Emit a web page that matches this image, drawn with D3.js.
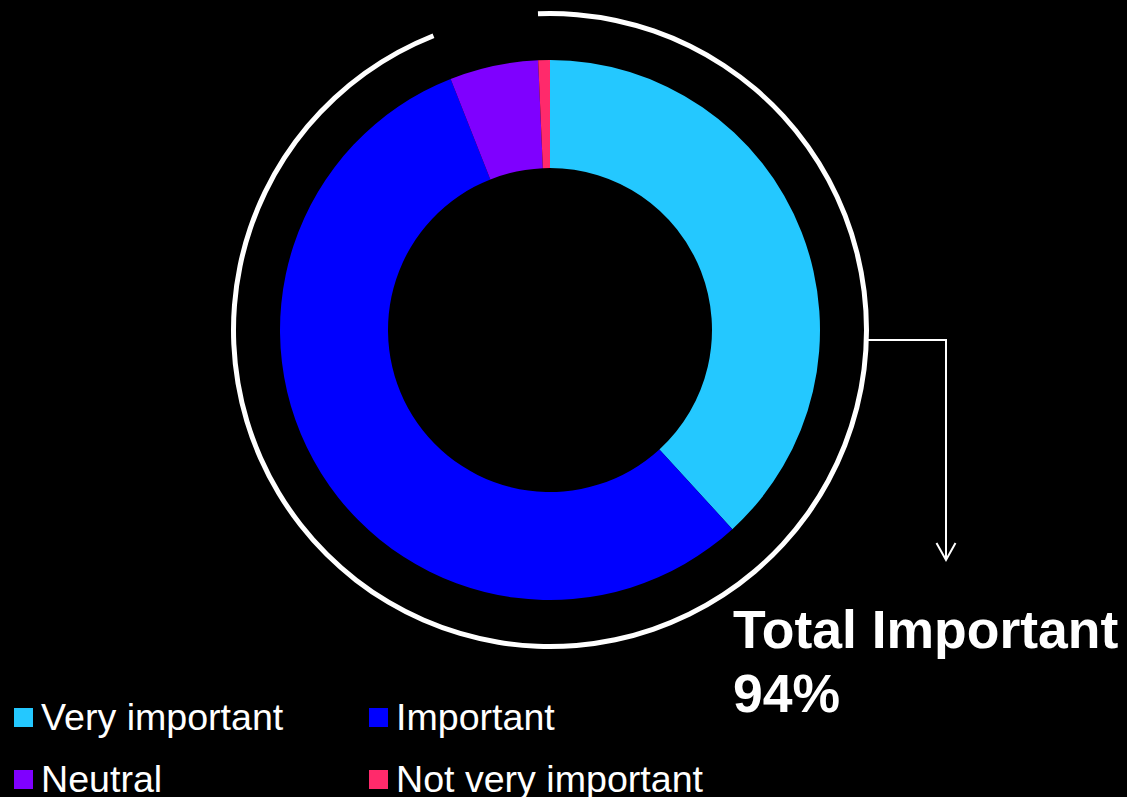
<!DOCTYPE html>
<html>
<head>
<meta charset="utf-8">
<script src="https://cdn.jsdelivr.net/npm/d3@7"></script>
<style>
  html, body { margin: 0; padding: 0; background: #000; }
  svg { display: block; }
  text { font-family: "Liberation Sans", Arial, sans-serif; fill: #fff; }
</style>
</head>
<body>
<svg id="chart" width="1127" height="797"></svg>
<script>
// Survey responses (share of respondents, %)
const categories = ["Very important", "Important", "Neutral", "Not very important"];
const values = [38.2, 55.8, 5.3, 0.7];
const colors = ["#24C8FF", "#0000FF", "#7F00FF", "#FF2A6B"];
const totalLabel = "Total Important";
const totalValue = 94;

const svg = d3.select("#chart");
const cx = 550, cy = 330;
const outerR = 270, innerR = 162;

const g = svg.append("g").attr("transform", `translate(${cx},${cy})`);

const pie = d3.pie().sort(null).value(d => d.value);
const arc = d3.arc().innerRadius(innerR).outerRadius(outerR);

g.selectAll("path.slice")
  .data(pie(categories.map((c, i) => ({ name: c, value: values[i], color: colors[i] }))))
  .join("path")
  .attr("class", "slice")
  .attr("d", arc)
  .attr("fill", d => d.data.color);

// Outer ring spanning the combined "important" share
const angle = d3.scaleLinear().domain([0, 100]).range([0, 2 * Math.PI]);
const ring = d3.arc()
  .innerRadius(314)
  .outerRadius(319)
  .startAngle(-0.038)
  .endAngle(angle(totalValue));
g.append("path").attr("d", ring()).attr("fill", "#fff");

// Connector from ring to the total label
const ringR = 316.5;
const lineY = 340;
const startX = cx + Math.sqrt(ringR * ringR - (lineY - cy) ** 2);
const elbowX = 946, tipY = 560;
svg.append("path")
  .attr("d", `M${startX},${lineY}H${elbowX}V${tipY}`)
  .attr("fill", "none")
  .attr("stroke", "#fff")
  .attr("stroke-width", 2);
svg.append("path")
  .attr("d", `M${elbowX - 9.5},${tipY - 17}L${elbowX},${tipY}L${elbowX + 9.5},${tipY - 17}`)
  .attr("fill", "none")
  .attr("stroke", "#fff")
  .attr("stroke-width", 2);

// Total label
const total = svg.append("text")
  .attr("x", 733)
  .attr("y", 648)
  .style("font-size", "53.5px")
  .style("font-weight", "bold");
total.append("tspan").attr("x", 733).text(totalLabel);
total.append("tspan").attr("x", 733).attr("dy", 64).text(totalValue + "%");

// Legend (two columns, two rows)
const legendCols = [14, 369];
const legendRows = [730, 792];
const legend = svg.selectAll("g.legend")
  .data(categories)
  .join("g")
  .attr("class", "legend")
  .attr("transform", (d, i) => `translate(${legendCols[i % 2]},${legendRows[Math.floor(i / 2)]})`);
legend.append("rect")
  .attr("x", 0)
  .attr("y", -22)
  .attr("width", 19)
  .attr("height", 19)
  .attr("fill", (d, i) => colors[i]);
legend.append("text")
  .attr("x", 27)
  .attr("y", 0)
  .style("font-size", "37.6px")
  .text(d => d);
</script>
</body>
</html>
